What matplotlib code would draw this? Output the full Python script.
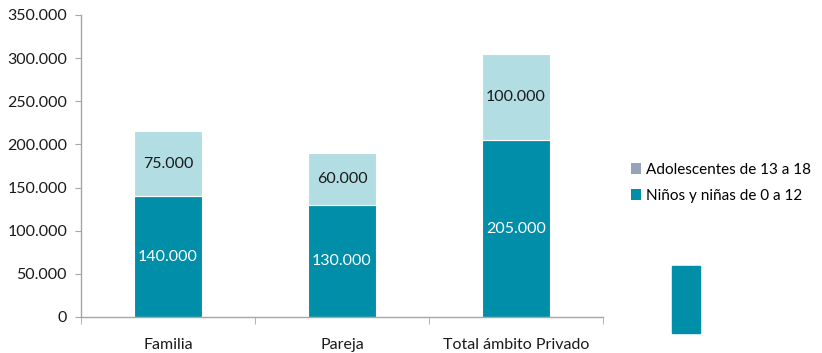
import matplotlib
matplotlib.use("Agg")
import matplotlib.pyplot as plt
from matplotlib.patches import Patch, Rectangle
import numpy as np

categories = ["Familia", "Pareja", "Total ámbito Privado"]
ninos = [140000, 130000, 205000]
adolescentes = [75000, 60000, 100000]
series_names = ["Adolescentes de 13 a 18", "Niños y niñas de 0 a 12"]
yticks = [0, 50000, 100000, 150000, 200000, 250000, 300000, 350000]

teal = "#008ea8"
light = "#b2dde3"
legend_grey = "#95a4b9"
axis_grey = "#a6a6a6"

def fmt(v):
    return "{:,}".format(int(v)).replace(",", ".")

plt.rcParams["font.family"] = ["Lato", "DejaVu Sans"]

fig = plt.figure(figsize=(8.22, 3.53), dpi=100)
ax = fig.add_axes([81 / 822, 36 / 353, 522 / 822, 302 / 353])

x = np.arange(len(categories))
b1 = ax.bar(x, ninos, width=0.39, color=teal, edgecolor="white", linewidth=0.8)
b2 = ax.bar(x, adolescentes, width=0.39, bottom=ninos, color=light,
            edgecolor="white", linewidth=0.8)

for i in range(len(categories)):
    ax.text(x[i], ninos[i] / 2, fmt(ninos[i]), ha="center", va="center",
            color="white", fontsize=11.5)
    ax.text(x[i], ninos[i] + adolescentes[i] / 2, fmt(adolescentes[i]),
            ha="center", va="center", color="#1a1a1a", fontsize=11.5)

ax.set_xlim(-0.5, len(categories) - 0.5)
ax.set_ylim(0, 350000)
ax.set_yticks(yticks)
ax.set_yticklabels([fmt(v) for v in yticks], fontsize=11.5, color="#1a1a1a")

ax.set_xticks(x)
ax.set_xticklabels(categories, fontsize=11.5, color="#1a1a1a")
ax.set_xticks(np.arange(-0.5, len(categories)), minor=True)
ax.tick_params(axis="x", which="major", length=0, pad=15)
ax.tick_params(axis="x", which="minor", length=5, color=axis_grey, direction="out")
ax.tick_params(axis="y", length=4, color=axis_grey, pad=6)

for s in ["top", "right"]:
    ax.spines[s].set_visible(False)
for s in ["left", "bottom"]:
    ax.spines[s].set_color(axis_grey)
    ax.spines[s].set_linewidth(1)

handles = [Patch(facecolor=legend_grey), Patch(facecolor=teal)]
fig.legend(handles, series_names, loc="center left",
           bbox_to_anchor=(620 / 822, 1 - 183 / 353), frameon=False,
           fontsize=11, handlelength=0.7, handleheight=0.7,
           handletextpad=0.3, labelspacing=0.8, borderpad=0.2)

# stray bar fragment sitting below the legend in the original
fig.patches.append(Rectangle((672 / 822, 1 - 333 / 353), 28 / 822, 67 / 353,
                             transform=fig.transFigure, color=teal))

fig.savefig("out.png", dpi=100)
